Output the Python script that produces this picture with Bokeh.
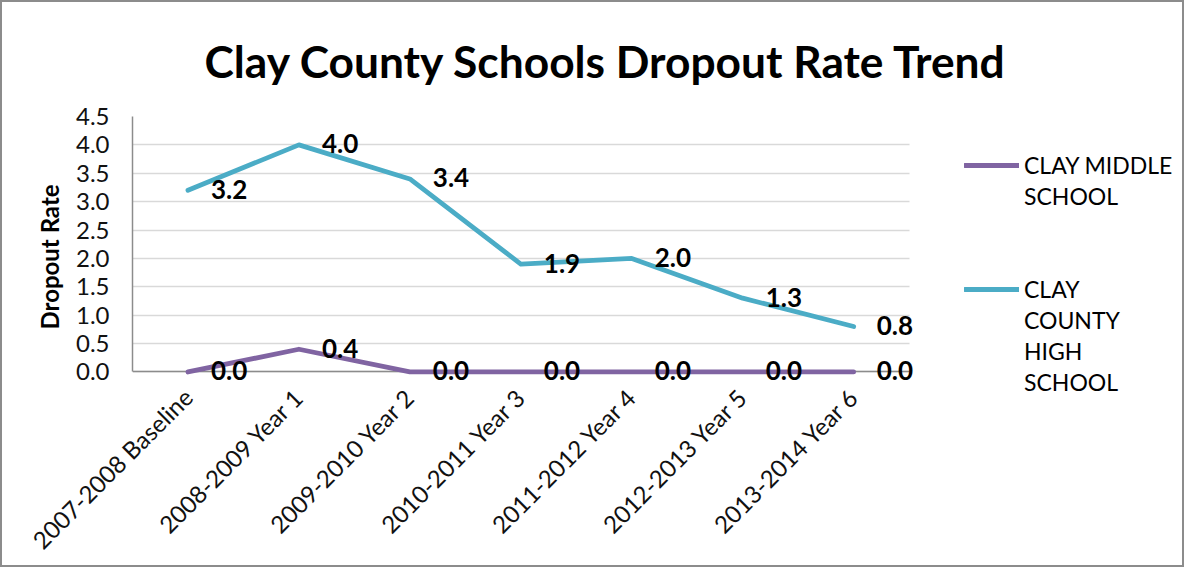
import math
from bokeh.plotting import figure
from bokeh.models import (Range1d, FixedTicker, PrintfTickFormatter, Grid,
                          ColumnDataSource, LabelSet, Legend, LegendItem, Title)
from bokeh.core.properties import value
from bokeh.embed import file_html
from bokeh.resources import INLINE

# ---- data ----
categories = ["2007-2008 Baseline", "2008-2009 Year 1", "2009-2010 Year 2",
              "2010-2011 Year 3", "2011-2012 Year 4", "2012-2013 Year 5",
              "2013-2014 Year 6"]
middle_school = [0.0, 0.4, 0.0, 0.0, 0.0, 0.0, 0.0]
high_school = [3.2, 4.0, 3.4, 1.9, 2.0, 1.3, 0.8]
y_ticks = [0.0, 0.5, 1.0, 1.5, 2.0, 2.5, 3.0, 3.5, 4.0, 4.5]
legend_lines_middle = ["CLAY MIDDLE", "SCHOOL"]
legend_lines_high = ["CLAY", "COUNTY", "HIGH", "SCHOOL"]
title_text = "Clay County Schools Dropout Rate Trend"
y_label = "Dropout Rate"

PURPLE = "#8064A2"
TEAL = "#4BACC6"
FONT = "Lato"

# category slots 1..N on a numeric axis (room on the right for the legend)
x_pos = list(range(1, len(categories) + 1))
x_lo, x_hi = x_pos[0] - 0.5, x_pos[-1] + 0.5

p = figure(width=1184, height=567,
           x_range=Range1d(0.5, 10.0),
           y_range=Range1d(-0.45, 4.5),
           output_backend="svg", toolbar_location=None,
           min_border_left=130, min_border_right=0,
           min_border_top=109, min_border_bottom=172)
p.styles = {"border": "2px solid #8C8C8C"}
p.outline_line_color = None

p.title = Title(text=title_text, align="left", text_font=FONT,
                text_font_size="44.3px", text_font_style="bold",
                text_color="#000000", offset=72, standoff=59)

# y axis
p.yaxis.ticker = FixedTicker(ticks=y_ticks)
p.yaxis.formatter = PrintfTickFormatter(format="%.1f")
p.yaxis.bounds = (0, 4.5)
p.yaxis.major_tick_line_color = None
p.yaxis.minor_tick_line_color = None
p.yaxis.major_label_standoff = 17
p.yaxis.axis_line_color = "#8C8C8C"
p.yaxis.axis_line_width = 1.5
p.yaxis.major_label_text_font = FONT
p.yaxis.major_label_text_font_size = "24px"
p.yaxis.major_label_text_color = "#111111"
p.yaxis.axis_label = y_label
p.yaxis.axis_label_text_font = FONT
p.yaxis.axis_label_text_font_size = "24px"
p.yaxis.axis_label_text_font_style = "bold"
p.yaxis.axis_label_text_color = "#000000"
p.yaxis.axis_label_standoff = 9

# x axis (category labels)
p.xaxis.ticker = FixedTicker(ticks=x_pos)
p.xaxis.major_label_overrides = dict(zip(x_pos, categories))
p.xaxis.major_label_orientation = math.pi / 4
p.xaxis.axis_line_color = None
p.xaxis.major_tick_line_color = None
p.xaxis.minor_tick_line_color = None
p.xaxis.major_label_standoff = -11
p.xaxis.major_label_text_font = FONT
p.xaxis.major_label_text_font_size = "24px"
p.xaxis.major_label_text_color = "#111111"

# grid lines limited to the category area
p.xgrid.grid_line_color = None
if "cross_bounds" in Grid.properties():
    p.ygrid.ticker = FixedTicker(ticks=y_ticks)
    p.ygrid.grid_line_color = "#D9D9D9"
    p.ygrid.grid_line_width = 1.3
    p.ygrid.cross_bounds = (x_lo, x_hi)
    p.add_layout(Grid(dimension=1, ticker=FixedTicker(ticks=[0]),
                      cross_bounds=(x_lo, x_hi),
                      grid_line_color="#8C8C8C", grid_line_width=1.5))
else:
    p.ygrid.grid_line_color = None
    n = len(y_ticks)
    p.segment(x0=[x_lo] * n, x1=[x_hi] * n, y0=y_ticks, y1=y_ticks,
              line_color="#D9D9D9", line_width=1.3)
    p.segment(x0=[x_lo], x1=[x_hi], y0=[0], y1=[0],
              line_color="#8C8C8C", line_width=1.5)

# series
r_mid = p.line(x_pos, middle_school, line_color=PURPLE, line_width=4.8,
               line_cap="round", line_join="round")
r_high = p.line(x_pos, high_school, line_color=TEAL, line_width=4.8,
                line_cap="round", line_join="round")
r_blank = p.line(x=[], y=[], line_alpha=0)

for vals in (high_school, middle_school):
    src = ColumnDataSource(dict(x=x_pos, y=vals,
                                label=["%.1f" % v for v in vals]))
    p.add_layout(LabelSet(x="x", y="y", text="label", source=src,
                          x_offset=23, y_offset=1, text_align="left",
                          text_baseline="middle", text_font=value(FONT),
                          text_font_size="26px", text_font_style="bold",
                          text_color="#000000"))

items = [LegendItem(label=legend_lines_middle[0], renderers=[r_mid])]
items += [LegendItem(label=t, renderers=[r_blank]) for t in legend_lines_middle[1:]]
items += [LegendItem(label=" ", renderers=[r_blank]) for _ in range(2)]
items += [LegendItem(label=legend_lines_high[0], renderers=[r_high])]
items += [LegendItem(label=t, renderers=[r_blank]) for t in legend_lines_high[1:]]

legend = Legend(items=items, location=(832, 0), glyph_width=55, glyph_height=30,
                label_height=30, spacing=1, padding=0, margin=0,
                label_standoff=5, border_line_color=None,
                background_fill_alpha=0, label_text_font=FONT,
                label_text_font_size="23px", label_text_color="#000000")
p.add_layout(legend)

open("out.html", "w").write(file_html(p, INLINE))
